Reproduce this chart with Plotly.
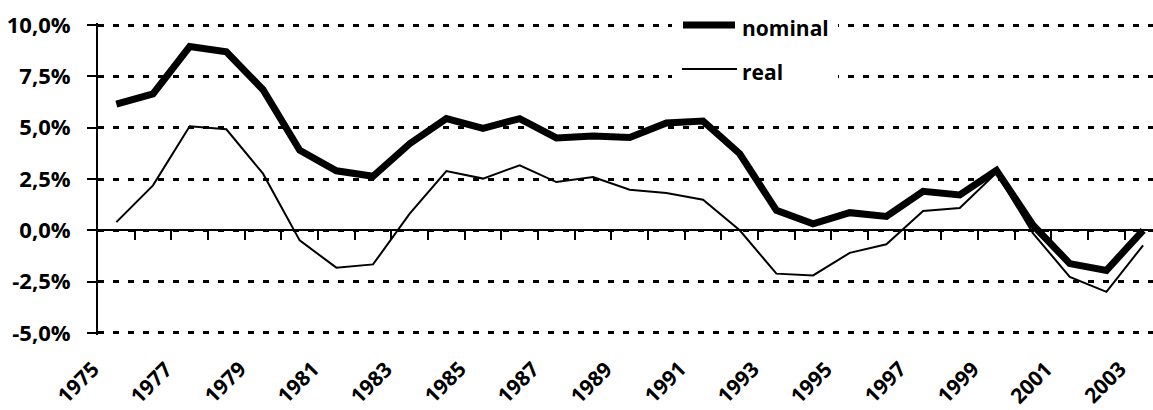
import plotly.graph_objects as go

years = list(range(1975, 2004))
nominal = [6.15, 6.65, 8.95, 8.7, 6.85, 3.9, 2.9, 2.63, 4.22, 5.44, 4.97, 5.44, 4.5, 4.6, 4.52,
           5.23, 5.32, 3.73, 0.97, 0.32, 0.86, 0.68, 1.9, 1.72, 2.92, 0.25, -1.62, -1.95, 0.0]
real = [0.4, 2.19, 5.07, 4.92, 2.76, -0.49, -1.82, -1.66, 0.81, 2.89, 2.52, 3.17, 2.35, 2.6, 1.98,
        1.82, 1.49, 0.0, -2.11, -2.2, -1.1, -0.68, 0.94, 1.09, 2.8, -0.15, -2.27, -3.0, -0.73]
series_names = ["nominal", "real"]
y_ticks = [-5.0, -2.5, 0.0, 2.5, 5.0, 7.5, 10.0]
y_ticktext = ["-5,0%", "-2,5%", "0,0%", "2,5%", "5,0%", "7,5%", "10,0%"]
x_label_years = years[::2]

W, H = 1153, 410
PAD = 0.1  # small range padding so edge gridlines get drawn
px_per_unit = 308 / 15
ML, MR = 98, 0
MT = round(25 - PAD * px_per_unit)
MB = round(410 - 333 - PAD * px_per_unit)
PW, PH = W - ML - MR, H - MT - MB
step_px = 36.67
x_lo = years[0] - 0.5
x_hi = x_lo + PW / step_px
boundaries = [y + 0.5 for y in years]
y_lo, y_hi = -5 - PAD, 10 + PAD
LABEL_DX = -10   # rotated labels end a little left of the category centre
LABEL_TOP = 354  # top of rotated year labels (px from top)

def px_x(p):
    return (p - ML) / PW

def px_y(p):
    return (H - MB - p) / PH

def year_to_paper(yr):
    # same linear scale as the x axis, expressed in paper units (works outside the range)
    return (yr - x_lo) / (x_hi - x_lo)

FONT = "Open Sans, Liberation Sans, DejaVu Sans, sans-serif"

fig = go.Figure()
fig.add_trace(go.Scatter(x=years, y=nominal, mode="lines", name=series_names[0],
                         line=dict(color="black", width=7), showlegend=False,
                         xaxis="x", yaxis="y"))
fig.add_trace(go.Scatter(x=years, y=real, mode="lines", name=series_names[1],
                         line=dict(color="black", width=2), showlegend=False,
                         xaxis="x2", yaxis="y"))

# year labels, rotated, below the plot
for yr in x_label_years:
    fig.add_annotation(text=str(yr), xref="paper", yref="paper",
                       x=year_to_paper(yr) + LABEL_DX / PW, y=px_y(LABEL_TOP),
                       xanchor="right", yanchor="top", textangle=-45, showarrow=False,
                       borderpad=0,
                       font=dict(family=FONT, size=21, color="black", weight="bold"))

# manual legend
fig.add_shape(type="rect", xref="paper", yref="paper",
              x0=px_x(672), x1=px_x(838), y0=px_y(88), y1=px_y(12),
              fillcolor="white", line=dict(width=0), layer="above")
fig.add_shape(type="line", xref="paper", yref="paper",
              x0=px_x(683), x1=px_x(735), y0=px_y(25), y1=px_y(25),
              line=dict(color="black", width=7), layer="above")
fig.add_shape(type="line", xref="paper", yref="paper",
              x0=px_x(682), x1=px_x(737), y0=px_y(69), y1=px_y(69),
              line=dict(color="black", width=2), layer="above")
for name, yy in zip(series_names, [28, 72]):
    fig.add_annotation(text=name, xref="paper", yref="paper", x=px_x(740), y=px_y(yy),
                       xanchor="left", yanchor="middle", showarrow=False,
                       font=dict(family=FONT, size=21, color="black", weight="bold"))

fig.update_layout(
    width=W, height=H,
    margin=dict(l=ML, r=MR, t=MT, b=MB, autoexpand=False),
    paper_bgcolor="white", plot_bgcolor="white",
    showlegend=False,
    xaxis=dict(range=[x_lo, x_hi], showticklabels=False, ticks="", showgrid=False,
               showline=False, zeroline=False, automargin=False),
    xaxis2=dict(range=[x_lo, x_hi], overlaying="x", anchor="free", position=(0 - y_lo) / (y_hi - y_lo),
                side="bottom", tickvals=boundaries, ticks="outside", ticklen=9, tickwidth=2,
                tickcolor="black", showticklabels=False, showline=True, linewidth=2,
                linecolor="black", showgrid=False, zeroline=False, automargin=False),
    yaxis=dict(range=[y_lo, y_hi], tickvals=y_ticks, ticktext=y_ticktext, ticks="outside",
               ticklen=9, tickwidth=2, tickcolor="black", showline=True, linewidth=2,
               linecolor="black", showgrid=True, gridcolor="black", gridwidth=2.5,
               griddash="6px,9px", zeroline=False, ticklabelstandoff=12, automargin=False,
               tickfont=dict(family=FONT, size=22, color="black", weight="bold")),
)

fig.write_html("out.html", config={"displayModeBar": False},
               post_script="document.body.style.margin='0';")
